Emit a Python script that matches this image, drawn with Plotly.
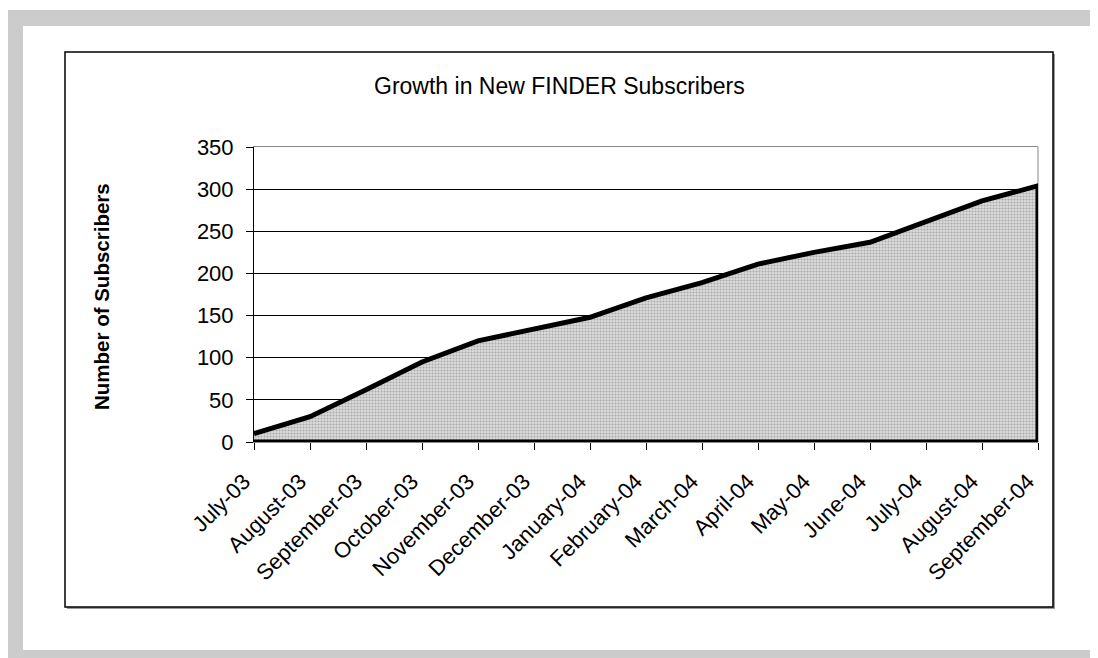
import plotly.graph_objects as go

months = ["July-03", "August-03", "September-03", "October-03", "November-03",
          "December-03", "January-04", "February-04", "March-04", "April-04",
          "May-04", "June-04", "July-04", "August-04", "September-04"]
subscribers = [10, 30, 62, 95, 120, 134, 148, 171, 189, 211, 225, 237, 262, 286, 304]
y_ticks = [0, 50, 100, 150, 200, 250, 300, 350]

title_text = "Growth in New FINDER Subscribers"
y_title = "Number of Subscribers"

W, H = 1098, 658
OFF = 8  # page body margin
L, R, T, B = 254, 1038, 147, 442  # plot area in page pixels
FONT = "Liberation Sans"


def px(x):
    return (x - L) / (R - L)


def py(y):
    return (B - y) / (B - T)


fig = go.Figure()

fig.add_trace(go.Scatter(
    x=months + [months[-1], months[0]],
    y=subscribers + [0, 0],
    mode="lines",
    fill="toself",
    fillcolor="#d0d0d0",
    fillpattern=dict(shape=".", bgcolor="#dcdcdc", fgcolor="#7a7a7a", size=3, solidity=0.4),
    line=dict(color="black", width=5),
    hoverinfo="skip",
    showlegend=False,
))

shapes = [
    # gray outer frame
    dict(type="rect", xref="paper", yref="paper", layer="below",
         x0=px(7), x1=px(1120), y0=py(680), y1=py(10),
         fillcolor="#cccccc", line=dict(width=0)),
    dict(type="rect", xref="paper", yref="paper", layer="below",
         x0=px(23), x1=px(1094), y0=py(650), y1=py(26),
         fillcolor="white", line=dict(width=0)),
    # chart box shadow
    dict(type="rect", xref="paper", yref="paper", layer="below",
         x0=px(67), x1=px(1055), y0=py(609), y1=py(54),
         fillcolor="#9a9a9a", line=dict(width=0)),
    # chart box
    dict(type="rect", xref="paper", yref="paper", layer="below",
         x0=px(65), x1=px(1053), y0=py(607), y1=py(52),
         fillcolor="white", line=dict(color="black", width=1.5)),
    # right border of plot area (gray)
    dict(type="line", xref="paper", yref="paper", layer="below",
         x0=1, x1=1, y0=0, y1=1,
         line=dict(color="#888888", width=1)),
]

fig.update_layout(
    width=W, height=H,
    margin=dict(l=L - OFF, r=W - (R - OFF), t=T - OFF, b=H - (B - OFF)),
    paper_bgcolor="white",
    plot_bgcolor="rgba(0,0,0,0)",
    font=dict(family=FONT, size=22, color="black"),
    shapes=shapes,
    showlegend=False,
    annotations=[
        dict(text=title_text, xref="paper", yref="paper", x=px(559), y=py(86),
             xanchor="center", yanchor="middle", showarrow=False,
             font=dict(family=FONT, size=23, color="black")),
        dict(text="<b>" + y_title + "</b>", xref="paper", yref="paper", x=px(101), y=py(297),
             xanchor="center", yanchor="middle", showarrow=False, textangle=-90,
             font=dict(family=FONT, size=20.5, color="black")),
    ],
)

fig.update_xaxes(
    type="category",
    categoryorder="array", categoryarray=months,
    range=[0, len(months) - 1],
    showgrid=False,
    ticks="outside", ticklen=7, tickcolor="black", tickwidth=1,
    tickangle=-45,
    ticklabelstandoff=10,
    ticklabelshift=-10,
    tickfont=dict(family=FONT, size=22, color="black"),
    showline=True, mirror=True, linecolor="#888888", linewidth=1,
    layer="below traces",
    zeroline=False,
)

fig.update_yaxes(
    range=[0, 350],
    tickvals=y_ticks,
    showgrid=True, gridcolor="black", gridwidth=1,
    ticks="outside", ticklen=7, tickcolor="black", tickwidth=1,
    ticklabelstandoff=8,
    tickfont=dict(family=FONT, size=22, color="black"),
    showline=True, linecolor="black", linewidth=1,
    zeroline=False,
)

fig.write_html("out.html")
